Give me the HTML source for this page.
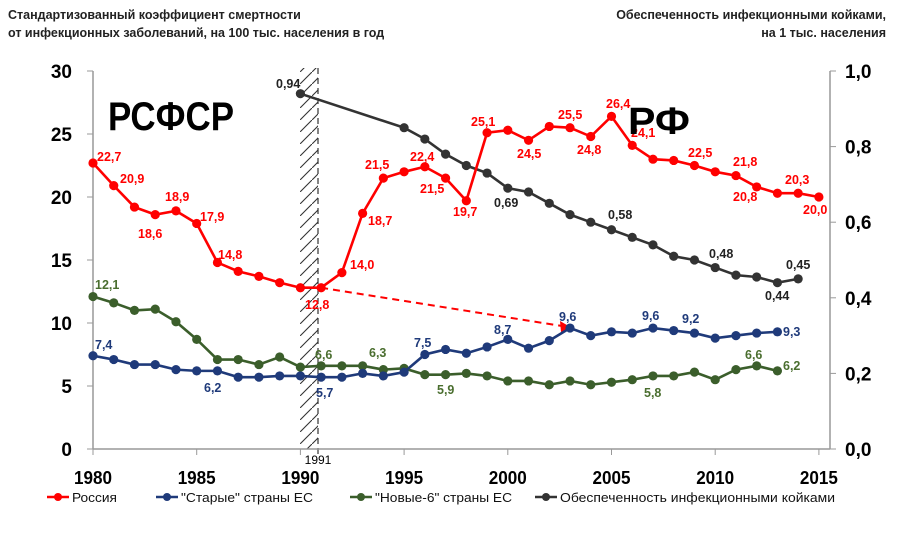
<!DOCTYPE html>
<html><head><meta charset="utf-8">
<style>
html,body{margin:0;padding:0;background:#fff;}
svg{display:block;font-family:"Liberation Sans Narrow","Liberation Sans",sans-serif;}
</style></head>
<body>
<svg id="c" width="900" height="538" viewBox="0 0 900 538" xmlns="http://www.w3.org/2000/svg">
<defs>
<pattern id="h" width="12" height="12" patternUnits="userSpaceOnUse">
<path d="M-3,15 L15,-3" stroke="#333" stroke-width="1.1"/>
</pattern>
</defs>
<text x="8" y="19" font-size="12.5" font-weight="bold" fill="#222">Стандартизованный коэффициент смертности</text>
<text x="8" y="37" font-size="12.5" font-weight="bold" fill="#222">от инфекционных заболеваний, на 100 тыс. населения в год</text>
<text x="886" y="19" font-size="12.5" font-weight="bold" fill="#222" text-anchor="end">Обеспеченность инфекционными койками,</text>
<text x="886" y="37" font-size="12.5" font-weight="bold" fill="#222" text-anchor="end">на 1 тыс. населения</text>
<rect x="300" y="68" width="18" height="381" fill="url(#h)"/>
<line x1="318" y1="68" x2="318" y2="456" stroke="#333" stroke-width="1.2" stroke-dasharray="6,4"/>
<g id="g"></g>
<text x="108" y="130" font-size="40" font-weight="bold" font-family="Liberation Sans,sans-serif" textLength="126" lengthAdjust="spacingAndGlyphs">РСФСР</text>
<text x="628" y="134" font-size="38" font-weight="bold" font-family="Liberation Sans,sans-serif" textLength="62" lengthAdjust="spacingAndGlyphs">РФ</text>
</svg>
<script>
var X=function(y){return 93+(y-1980)*20.74},Y=function(v){return 449-v*12.6},R=function(v){return 449-v*378};
var g=document.getElementById('g'),s='';
s+='<line x1="93" y1="71" x2="93" y2="449" stroke="#999" stroke-width="1.5"/>';
s+='<line x1="830" y1="71" x2="830" y2="449" stroke="#999" stroke-width="1.5"/>';
s+='<line x1="93" y1="449" x2="830" y2="449" stroke="#999" stroke-width="1.5"/>';
for(var i=0;i<=6;i++){var y=Y(i*5);s+='<line x1="87" y1="'+y+'" x2="93" y2="'+y+'" stroke="#999"/><text x="72" y="'+(y+7)+'" font-size="19" font-weight="bold" text-anchor="end">'+(i*5)+'</text>';}
for(var i=0;i<=5;i++){var y=R(i*0.2);s+='<line x1="830" y1="'+y+'" x2="836" y2="'+y+'" stroke="#999"/><text x="845" y="'+(y+7)+'" font-size="19" font-weight="bold">'+(i*0.2).toFixed(1).replace('.',',')+'</text>';}
for(var i=0;i<=7;i++){var x=X(1980+i*5);s+='<line x1="'+x+'" y1="449" x2="'+x+'" y2="455" stroke="#999"/><text x="'+x+'" y="484" font-size="18" font-weight="bold" text-anchor="middle" textLength="38" lengthAdjust="spacingAndGlyphs">'+(1980+i*5)+'</text>';}
s+='<text x="318" y="464" font-size="12" text-anchor="middle">1991</text>';
s+='<line x1="'+X(1991)+'" y1="'+Y(12.8)+'" x2="563" y2="'+Y(9.75)+'" stroke="red" stroke-width="2" stroke-dasharray="7,5"/>';
s+='<polygon points="572,'+Y(9.6)+' 560,'+(Y(9.6)-7)+' 561,'+(Y(9.6)+4)+'" fill="red"/>';
function line(yr0,vals,f,col){var p=[];for(var i=0;i<vals.length;i++){if(vals[i]==null)continue;p.push([X(yr0+i),f(vals[i])]);}
 var d='<polyline fill="none" stroke="'+col+'" stroke-width="2.6" points="'+p.map(function(q){return q.join(',')}).join(' ')+'"/>';
 p.forEach(function(q){d+='<circle cx="'+q[0]+'" cy="'+q[1]+'" r="4.6" fill="'+col+'"/>';});return d;}
var ru=[22.7,20.9,19.2,18.6,18.9,17.9,14.8,14.1,13.7,13.2,12.8,12.8,14.0,18.7,21.5,22.0,22.4,21.5,19.7,25.1,25.3,24.5,25.6,25.5,24.8,26.4,24.1,23.0,22.9,22.5,22.0,21.7,20.8,20.3,20.3,20.0];
var bl=[7.4,7.1,6.7,6.7,6.3,6.2,6.2,5.7,5.7,5.8,5.8,5.7,5.7,6.0,5.8,6.1,7.5,7.9,7.6,8.1,8.7,8.0,8.6,9.6,9.0,9.3,9.2,9.6,9.4,9.2,8.8,9.0,9.2,9.3];
var gr=[12.1,11.6,11.0,11.1,10.1,8.7,7.1,7.1,6.7,7.3,6.5,6.6,6.6,6.6,6.3,6.4,5.9,5.9,6.0,5.8,5.4,5.4,5.1,5.4,5.1,5.3,5.5,5.8,5.8,6.1,5.5,6.3,6.6,6.2];
var bk=[0.94,null,null,null,null,0.85,0.82,0.78,0.75,0.73,0.69,0.68,0.65,0.62,0.60,0.58,0.56,0.54,0.51,0.50,0.48,0.46,0.455,0.44,0.45];
s+=line(1980,gr,Y,'#3b5e2b');s+=line(1980,bl,Y,'#1f3a7a');s+=line(1990,bk,R,'#333');s+=line(1980,ru,Y,'#ff0000');
function t(x,y,txt,col){s+='<text x="'+x+'" y="'+y+'" font-size="12.5" font-weight="bold" fill="'+col+'">'+txt+'</text>';}
var r='#ff0000';
t(97,161,'22,7',r);t(120,183,'20,9',r);t(138,238,'18,6',r);t(165,201,'18,9',r);t(200,221,'17,9',r);t(218,259,'14,8',r);
t(305,309,'12,8',r);t(350,269,'14,0',r);t(368,225,'18,7',r);t(365,169,'21,5',r);t(410,161,'22,4',r);t(420,193,'21,5',r);
t(453,216,'19,7',r);t(471,126,'25,1',r);t(517,158,'24,5',r);t(558,119,'25,5',r);t(577,154,'24,8',r);t(606,108,'26,4',r);
t(631,137,'24,1',r);t(688,157,'22,5',r);t(733,166,'21,8',r);t(733,201,'20,8',r);t(785,184,'20,3',r);t(803,214,'20,0',r);
var b='#1f3a7a';t(95,349,'7,4',b);t(204,392,'6,2',b);t(316,397,'5,7',b);t(414,347,'7,5',b);t(494,334,'8,7',b);t(559,321,'9,6',b);
t(642,320,'9,6',b);t(682,323,'9,2',b);t(783,336,'9,3',b);
var G='#4a6e2f';t(95,289,'12,1',G);t(315,359,'6,6',G);t(369,357,'6,3',G);t(437,394,'5,9',G);t(644,397,'5,8',G);t(745,359,'6,6',G);t(783,370,'6,2',G);
var k='#222';t(276,88,'0,94',k);t(494,207,'0,69',k);t(608,219,'0,58',k);t(709,258,'0,48',k);t(786,269,'0,45',k);t(765,300,'0,44',k);
function lg(x,col,txt,w){s+='<line x1="'+x+'" y1="497" x2="'+(x+22)+'" y2="497" stroke="'+col+'" stroke-width="2.6"/><circle cx="'+(x+11)+'" cy="497" r="4" fill="'+col+'"/><text x="'+(x+25)+'" y="502" font-size="13" fill="#111" textLength="'+w+'" lengthAdjust="spacingAndGlyphs">'+txt+'</text>';}
lg(47,'#ff0000','Россия',45);lg(156,'#1f3a7a','"Старые" страны ЕС',132);lg(350,'#3b5e2b','"Новые-6" страны ЕС',137);lg(535,'#333','Обеспеченность инфекционными койками',275);
g.innerHTML=s;
</script>
</body></html>
